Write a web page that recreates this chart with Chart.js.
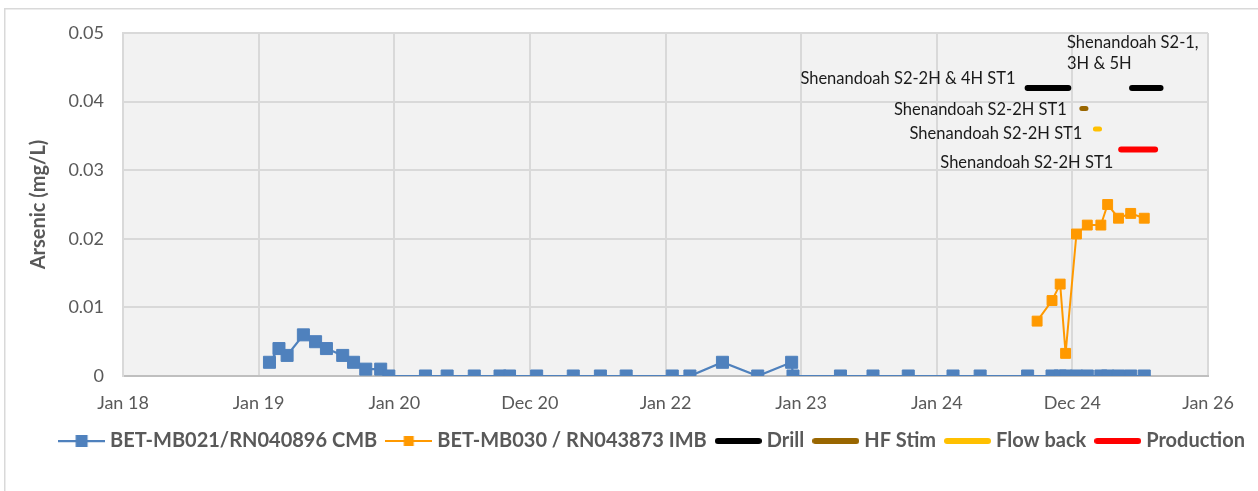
<!DOCTYPE html>
<html>
<head>
<meta charset="utf-8">
<script src="https://cdn.jsdelivr.net/npm/chart.js@4.4.1/dist/chart.umd.min.js"></script>
<style>
  html, body { margin: 0; padding: 0; background: #fff; }
</style>
</head>
<body>
<canvas id="grafico" width="1258" height="491"></canvas>
<script>
// Eixo x em anos decimais, rótulos como no original (escala de 365 dias)
const xTickLabels = ['Jan 18', 'Jan 19', 'Jan 20', 'Dec 20', 'Jan 22', 'Jan 23', 'Jan 24', 'Dec 24', 'Jan 26'];

const seriesNames = ['BET-MB021/RN040896 CMB', 'BET-MB030 / RN043873 IMB', 'Drill', 'HF Stim', 'Flow back', 'Production'];

// BET-MB021 (CMB)
const cmbDates = [2019.08, 2019.15, 2019.21, 2019.33, 2019.42, 2019.50, 2019.62, 2019.70, 2019.79, 2019.90,
  2019.96, 2020.23, 2020.39, 2020.59, 2020.78, 2020.85, 2021.05, 2021.32, 2021.52, 2021.71,
  2022.05, 2022.18, 2022.42, 2022.68, 2022.93, 2022.94, 2023.29, 2023.53, 2023.79, 2024.12,
  2024.32, 2024.67, 2024.85, 2024.91, 2024.95, 2025.03, 2025.11, 2025.21, 2025.26, 2025.34,
  2025.43, 2025.53];
const cmbArsenic = [0.002, 0.004, 0.003, 0.006, 0.005, 0.004, 0.003, 0.002, 0.001, 0.001,
  0, 0, 0, 0, 0, 0, 0, 0, 0, 0,
  0, 0, 0.002, 0, 0.002, 0, 0, 0, 0, 0,
  0, 0, 0, 0, 0, 0, 0, 0, 0, 0,
  0, 0];

// BET-MB030 (IMB)
const imbDates = [2024.74, 2024.85, 2024.91, 2024.95, 2025.03, 2025.11, 2025.21, 2025.26, 2025.34, 2025.43, 2025.53];
const imbArsenic = [0.008, 0.011, 0.0134, 0.0033, 0.0207, 0.022, 0.022, 0.025, 0.023, 0.0237, 0.023];

// Atividades de poço (barras horizontais)
const drillDates = [2024.67, 2024.97, 2025.20, 2025.44, 2025.65];
const drillLevel = [0.042, 0.042, null, 0.042, 0.042];
const hfStimDates = [2025.07, 2025.10];
const hfStimLevel = [0.039, 0.039];
const flowbackDates = [2025.17, 2025.20];
const flowbackLevel = [0.036, 0.036];
const productionDates = [2025.36, 2025.61];
const productionLevel = [0.033, 0.033];

const drillLabels = ['Shenandoah S2-2H & 4H ST1', ['Shenandoah S2-1,', '3H & 5H']];
const hfStimLabel = 'Shenandoah S2-2H ST1';
const flowbackLabel = 'Shenandoah S2-2H ST1';
const productionLabel = 'Shenandoah S2-2H ST1';

const GRAY_TEXT = '#595959';
const FONT = 'Lato';

function toPoints(xs, ys) {
    return xs.map((x, i) => ({ x: x, y: ys[i] }));
}

// Amostra da legenda: linha com (ou sem) marcador quadrado
function legendSwatch(color, lineWidth, markerSide, roundCap) {
    const c = document.createElement('canvas');
    c.width = 47;
    c.height = 20;
    const g = c.getContext('2d');
    g.strokeStyle = color;
    g.lineWidth = lineWidth;
    g.lineCap = roundCap ? 'round' : 'butt';
    const inset = roundCap ? lineWidth / 2 : 0;
    g.beginPath();
    g.moveTo(inset, 10);
    g.lineTo(47 - inset, 10);
    g.stroke();
    if (markerSide) {
        g.fillStyle = color;
        g.fillRect(23.5 - markerSide / 2, 10 - markerSide / 2, markerSide, markerSide);
    }
    return c;
}

const legendSwatches = [
    legendSwatch('#4f81bd', 2.25, 12, false),
    legendSwatch('#ff9900', 2, 10, false),
    legendSwatch('#000000', 6, 0, true),
    legendSwatch('#996600', 6, 0, true),
    legendSwatch('#ffc000', 6, 0, true),
    legendSwatch('#ff0000', 6, 0, true)
];

const backgroundPlugin = {
    id: 'fundo',
    beforeDraw(chart) {
        const { ctx, chartArea } = chart;
        ctx.save();
        ctx.fillStyle = '#ffffff';
        ctx.fillRect(0, 0, chart.width, chart.height);
        ctx.strokeStyle = '#d9d9d9';
        ctx.lineWidth = 1.5;
        ctx.strokeRect(4.75, 8.75, chart.width - 2.5, chart.height + 10);
        ctx.fillStyle = '#f2f2f2';
        ctx.fillRect(chartArea.left, chartArea.top, chartArea.right - chartArea.left, chartArea.bottom - chartArea.top);
        ctx.restore();
    }
};

// Rótulos das atividades, posicionados a partir do início de cada barra
const activityLabelsPlugin = {
    id: 'rotulosAtividades',
    afterDatasetsDraw(chart) {
        const { ctx } = chart;
        const x = chart.scales.x;
        const y = chart.scales.y;
        ctx.save();
        ctx.font = '16.5px ' + FONT;
        ctx.fillStyle = '#1a1a1a';
        ctx.textBaseline = 'middle';

        ctx.textAlign = 'right';
        ctx.fillText(drillLabels[0], x.getPixelForValue(drillDates[0]) - 12, y.getPixelForValue(drillLevel[0]) - 9);
        ctx.fillText(hfStimLabel, x.getPixelForValue(hfStimDates[0]) - 15, y.getPixelForValue(hfStimLevel[0]) + 1.5);
        ctx.fillText(flowbackLabel, x.getPixelForValue(flowbackDates[0]) - 13, y.getPixelForValue(flowbackLevel[0]) + 5);
        ctx.fillText(productionLabel, x.getPixelForValue(productionDates[0]) - 8, y.getPixelForValue(productionLevel[0]) + 13.5);

        ctx.textAlign = 'left';
        const d2x = x.getPixelForValue(drillDates[3]) - 65;
        const d2y = y.getPixelForValue(drillLevel[3]);
        ctx.fillText(drillLabels[1][0], d2x, d2y - 45);
        ctx.fillText(drillLabels[1][1], d2x, d2y - 24);
        ctx.restore();
    }
};

function activityDataset(label, xs, ys, color, width) {
    return {
        label: label,
        data: toPoints(xs, ys),
        borderColor: color,
        backgroundColor: color,
        borderWidth: width,
        borderCapStyle: 'round',
        pointRadius: 0,
        showLine: true,
        spanGaps: false
    };
}

const ctx = document.getElementById('grafico').getContext('2d');

new Chart(ctx, {
    type: 'scatter',
    data: {
        datasets: [
            {
                label: seriesNames[0],
                data: toPoints(cmbDates, cmbArsenic),
                borderColor: '#4f81bd',
                backgroundColor: '#4f81bd',
                borderWidth: 2.25,
                showLine: true,
                pointStyle: 'rect',
                pointRadius: 8.5,
                pointBorderWidth: 1,
                order: 2
            },
            {
                label: seriesNames[1],
                data: toPoints(imbDates, imbArsenic),
                borderColor: '#ff9900',
                backgroundColor: '#ff9900',
                borderWidth: 2,
                showLine: true,
                pointStyle: 'rect',
                pointRadius: 7,
                pointBorderWidth: 1,
                order: 1
            },
            activityDataset(seriesNames[2], drillDates, drillLevel, '#000000', 6),
            activityDataset(seriesNames[3], hfStimDates, hfStimLevel, '#996600', 5),
            activityDataset(seriesNames[4], flowbackDates, flowbackLevel, '#ffc000', 5),
            activityDataset(seriesNames[5], productionDates, productionLevel, '#ff0000', 6)
        ]
    },
    options: {
        responsive: false,
        animation: false,
        events: [],
        layout: { padding: { top: 33, left: 0, right: 0, bottom: 30 } },
        scales: {
            x: {
                type: 'linear',
                min: 2018,
                max: 2026,
                afterFit(scale) { scale.height = 42; },
                ticks: {
                    stepSize: 1,
                    autoSkip: false,
                    maxRotation: 0,
                    padding: 16,
                    color: GRAY_TEXT,
                    font: { family: FONT, size: 18 },
                    callback: (value, index) => xTickLabels[index]
                },
                grid: { color: '#d9d9d9', lineWidth: 2, drawTicks: false },
                border: { color: '#bfbfbf', width: 2 }
            },
            y: {
                min: 0,
                max: 0.05,
                afterFit(scale) { scale.width = 123; },
                ticks: {
                    stepSize: 0.01,
                    padding: 19,
                    color: GRAY_TEXT,
                    font: { family: FONT, size: 18 },
                    callback: value => value === 0 ? '0' : value.toFixed(2)
                },
                grid: { color: '#d9d9d9', lineWidth: 2, drawTicks: false },
                border: { color: '#d9d9d9', width: 2 },
                title: {
                    display: true,
                    text: 'Arsenic (mg/L)',
                    color: GRAY_TEXT,
                    font: { family: FONT, size: 20, weight: 'bold' },
                    padding: { top: 27, bottom: 0 }
                }
            },
            yDireita: {
                type: 'linear',
                position: 'right',
                display: true,
                afterFit(scale) { scale.width = 50; },
                grid: { display: false },
                ticks: { display: false },
                border: { display: false }
            }
        },
        plugins: {
            tooltip: { enabled: false },
            legend: {
                position: 'bottom',
                align: 'end',
                labels: {
                    usePointStyle: true,
                    pointStyleWidth: 37,
                    padding: 13,
                    color: GRAY_TEXT,
                    font: { family: FONT, size: 20, weight: 'bold' },
                    generateLabels: chart => chart.data.datasets.map((ds, i) => ({
                        text: ds.label,
                        pointStyle: legendSwatches[i],
                        fillStyle: ds.borderColor,
                        strokeStyle: ds.borderColor,
                        fontColor: GRAY_TEXT,
                        lineWidth: 0,
                        hidden: false,
                        datasetIndex: i
                    }))
                }
            }
        }
    },
    plugins: [backgroundPlugin, activityLabelsPlugin]
});
</script>
</body>
</html>
